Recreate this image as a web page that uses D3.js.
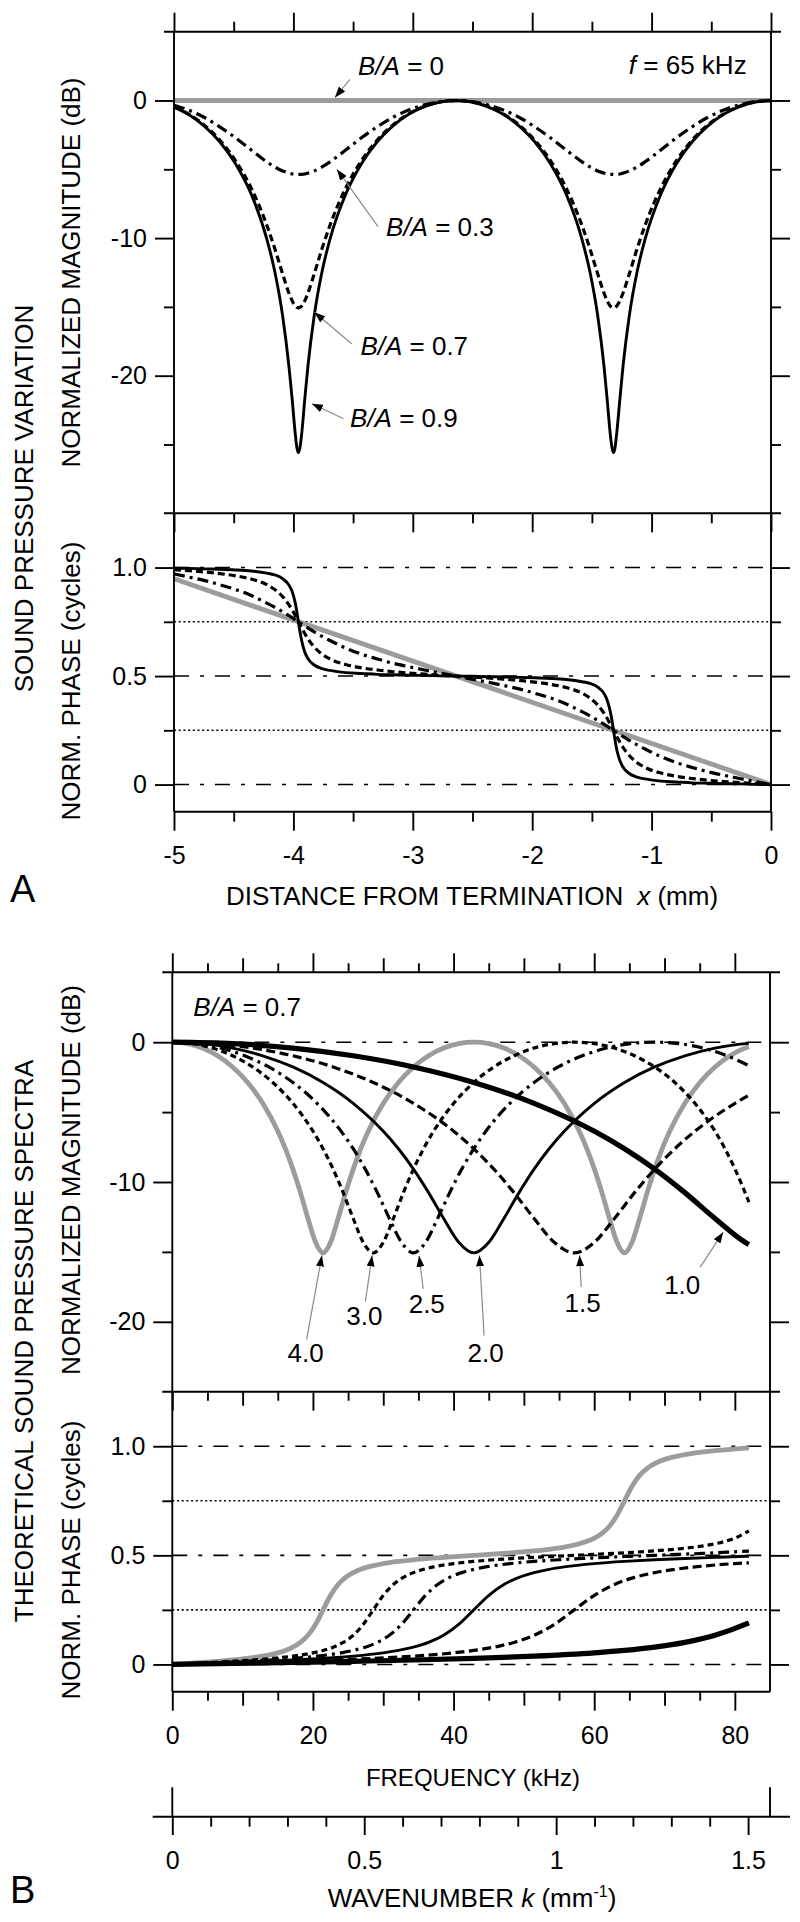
<!DOCTYPE html>
<html><head><meta charset="utf-8">
<script src="https://cdn.jsdelivr.net/npm/d3@7/dist/d3.min.js"></script>
<style>
body{margin:0;background:#fff;}
svg{display:block;}
</style></head><body>
<svg id="chart" width="800" height="1922"></svg>
<script>
// ---------------- DATA ----------------
// Panel A: distance from termination x (mm), f = 65 kHz
const xDist = [-5,-4.881,-4.749,-4.617,-4.485,-4.353,-4.222,-4.156,-4.090,-4.037,-4.010,-3.984,-3.971,-3.958,-3.945,-3.931,-3.905,-3.879,-3.826,-3.760,-3.694,-3.562,-3.430,-3.298,-3.166,-3.034,-2.902,-2.770,-2.638,
 -2.507,-2.375,-2.243,-2.111,-1.979,-1.847,-1.715,-1.583,-1.517,-1.451,-1.398,-1.372,-1.346,-1.332,-1.319,-1.306,-1.293,-1.266,-1.240,-1.187,-1.121,-1.055,-0.923,-0.792,-0.660,-0.528,-0.396,-0.264,-0.132,0];
const xDist0 = [-5, 0];
const magA_0 = [0, 0];
const magA_03 = [-0.34,-0.69,-1.22,-1.91,-2.71,-3.60,-4.46,-4.83,-5.12,-5.28,-5.34,-5.37,-5.37,-5.38,-5.37,-5.37,-5.34,-5.28,-5.12,-4.83,-4.46,-3.60,-2.71,-1.91,-1.22,-0.69,-0.31,-0.08,0,
 -0.08,-0.31,-0.69,-1.22,-1.91,-2.71,-3.60,-4.46,-4.83,-5.12,-5.28,-5.34,-5.37,-5.37,-5.38,-5.37,-5.37,-5.34,-5.28,-5.12,-4.83,-4.46,-3.60,-2.71,-1.91,-1.22,-0.69,-0.31,-0.08,0];
const magA_07 = [-0.47,-0.97,-1.77,-2.88,-4.37,-6.37,-9.08,-10.76,-12.61,-14.01,-14.56,-14.94,-15.03,-15.07,-15.03,-14.94,-14.56,-14.01,-12.61,-10.76,-9.08,-6.37,-4.37,-2.88,-1.77,-0.97,-0.42,-0.10,0,
 -0.10,-0.42,-0.97,-1.77,-2.88,-4.37,-6.37,-9.08,-10.76,-12.61,-14.01,-14.56,-14.94,-15.03,-15.07,-15.03,-14.94,-14.56,-14.01,-12.61,-10.76,-9.08,-6.37,-4.37,-2.88,-1.77,-0.97,-0.42,-0.10,0];
const magA_09 = [-0.48,-1.00,-1.84,-3.00,-4.59,-6.81,-10.09,-12.43,-15.66,-19.36,-21.74,-24.26,-25.21,-25.58,-25.21,-24.26,-21.74,-19.36,-15.66,-12.43,-10.09,-6.81,-4.59,-3.00,-1.84,-1.00,-0.44,-0.11,0,
 -0.11,-0.44,-1.00,-1.84,-3.00,-4.59,-6.81,-10.09,-12.43,-15.66,-19.36,-21.74,-24.26,-25.21,-25.58,-25.21,-24.26,-21.74,-19.36,-15.66,-12.43,-10.09,-6.81,-4.59,-3.00,-1.84,-1.00,-0.44,-0.11,0];
const phaseA_0 = [0.948, 0];
const phaseA_03 = [0.971,0.957,0.941,0.921,0.899,0.871,0.836,0.817,0.796,0.778,0.769,0.759,0.755,0.75,0.745,0.741,0.731,0.722,0.704,0.683,0.664,0.629,0.601,0.579,0.559,0.543,0.528,0.514,0.5,
 0.486,0.472,0.457,0.441,0.421,0.399,0.371,0.336,0.317,0.296,0.278,0.269,0.259,0.255,0.25,0.245,0.241,0.231,0.222,0.204,0.183,0.164,0.129,0.101,0.079,0.059,0.043,0.028,0.014,0];
const phaseA_07 = [0.990,0.986,0.980,0.972,0.962,0.947,0.921,0.899,0.866,0.828,0.805,0.778,0.764,0.75,0.736,0.722,0.696,0.672,0.634,0.601,0.579,0.553,0.538,0.528,0.520,0.514,0.509,0.504,0.5,
 0.496,0.491,0.486,0.480,0.472,0.462,0.447,0.421,0.399,0.366,0.328,0.305,0.278,0.264,0.25,0.236,0.222,0.196,0.172,0.134,0.101,0.079,0.053,0.038,0.028,0.020,0.014,0.009,0.004,0];
const phaseA_09 = [0.997,0.996,0.994,0.992,0.989,0.984,0.974,0.966,0.949,0.919,0.889,0.836,0.796,0.75,0.704,0.664,0.611,0.581,0.551,0.534,0.526,0.516,0.512,0.508,0.506,0.504,0.503,0.501,0.5,
 0.499,0.497,0.496,0.494,0.492,0.489,0.484,0.474,0.466,0.449,0.419,0.389,0.336,0.296,0.25,0.204,0.164,0.111,0.081,0.051,0.034,0.026,0.016,0.012,0.008,0.006,0.004,0.003,0.001,0];

// Panel B: spectra (B/A = 0.7) at distances 4.0, 3.0, 2.5, 2.0, 1.5, 1.0 mm; frequency in kHz
const f40 = [0,2.14,4.29,6.43,8.58,10.72,12.86,15.01,16.08,17.15,18.22,19.29,20.37,21.44,22.51,23.58,24.65,25.73,26.80,27.87,30.01,32.16,34.30,36.44,38.59,40.73,42.88,45.02,47.16,49.31,51.45,53.59,55.74,57.88,58.95,60.03,61.10,62.17,63.24,64.31,65.38,66.46,67.53,68.60,69.67,70.74,72.89,75.03,77.18,79.32,81.46,82];
const mag40 = [0,-0.10,-0.42,-0.97,-1.77,-2.88,-4.37,-6.37,-7.62,-9.08,-10.76,-12.61,-14.31,-15.07,-14.31,-12.61,-10.76,-9.08,-7.62,-6.37,-4.37,-2.88,-1.77,-0.97,-0.42,-0.10,0,-0.10,-0.42,-0.97,-1.77,-2.88,-4.37,-6.37,-7.62,-9.08,-10.76,-12.61,-14.31,-15.07,-14.31,-12.61,-10.76,-9.08,-7.62,-6.37,-4.37,-2.88,-1.77,-0.97,-0.42,-0.32];
const ph40 = [0,0.0044,0.0091,0.0143,0.0203,0.0278,0.0379,0.0531,0.0641,0.0792,0.1009,0.1336,0.1832,0.25,0.3168,0.3664,0.3991,0.4208,0.4359,0.4469,0.4621,0.4722,0.4797,0.4857,0.4909,0.4956,0.5,0.5044,0.5091,0.5143,0.5203,0.5278,0.5379,0.5531,0.5641,0.5792,0.6009,0.6336,0.6832,0.75,0.8168,0.8664,0.8991,0.9208,0.9359,0.9469,0.9621,0.9722,0.9797,0.9857,0.9909,0.9921];
const f30 = [0,2.86,5.72,8.58,11.43,14.29,17.15,20.01,21.44,22.87,24.30,25.73,27.15,28.58,30.01,31.44,32.87,34.30,35.73,37.16,40.02,42.88,45.73,48.59,51.45,54.31,57.17,60.03,62.88,65.74,68.60,71.46,74.32,77.18,78.60,80.03,82];
const mag30 = [0,-0.10,-0.42,-0.97,-1.77,-2.88,-4.37,-6.37,-7.62,-9.08,-10.76,-12.61,-14.31,-15.07,-14.31,-12.61,-10.76,-9.08,-7.62,-6.37,-4.37,-2.88,-1.77,-0.97,-0.42,-0.10,0,-0.10,-0.42,-0.97,-1.77,-2.88,-4.37,-6.37,-7.62,-9.08,-11.44];
const ph30 = [0,0.0044,0.0091,0.0143,0.0203,0.0278,0.0379,0.0531,0.0641,0.0792,0.1009,0.1336,0.1832,0.25,0.3168,0.3664,0.3991,0.4208,0.4359,0.4469,0.4621,0.4722,0.4797,0.4857,0.4909,0.4956,0.5,0.5044,0.5091,0.5143,0.5203,0.5278,0.5379,0.5531,0.5641,0.5792,0.6116];
const f25 = [0,3.43,6.86,10.29,13.72,17.15,20.58,24.01,25.73,27.44,29.16,30.87,32.59,34.30,36.02,37.73,39.45,41.16,42.88,44.59,48.02,51.45,54.88,58.31,61.74,65.17,68.60,72.03,75.46,78.89,82];
const mag25 = [0,-0.10,-0.42,-0.97,-1.77,-2.88,-4.37,-6.37,-7.62,-9.08,-10.76,-12.61,-14.31,-15.07,-14.31,-12.61,-10.76,-9.08,-7.62,-6.37,-4.37,-2.88,-1.77,-0.97,-0.42,-0.10,0,-0.10,-0.42,-0.97,-1.68];
const ph25 = [0,0.0044,0.0091,0.0143,0.0203,0.0278,0.0379,0.0531,0.0641,0.0792,0.1009,0.1336,0.1832,0.25,0.3168,0.3664,0.3991,0.4208,0.4359,0.4469,0.4621,0.4722,0.4797,0.4857,0.4909,0.4956,0.5,0.5044,0.5091,0.5143,0.5197];
const f20 = [0,4.29,8.58,12.86,17.15,21.44,25.73,30.01,32.16,34.30,36.44,38.59,40.73,42.88,45.02,47.16,49.31,51.45,53.59,55.74,60.03,64.31,68.60,72.89,77.18,81.46,82];
const mag20 = [0,-0.10,-0.42,-0.97,-1.77,-2.88,-4.37,-6.37,-7.62,-9.08,-10.76,-12.61,-14.31,-15.07,-14.31,-12.61,-10.76,-9.08,-7.62,-6.37,-4.37,-2.88,-1.77,-0.97,-0.42,-0.10,-0.08];
const ph20 = [0,0.0044,0.0091,0.0143,0.0203,0.0278,0.0379,0.0531,0.0641,0.0792,0.1009,0.1336,0.1832,0.25,0.3168,0.3664,0.3991,0.4208,0.4359,0.4469,0.4621,0.4722,0.4797,0.4857,0.4909,0.4956,0.4961];
const f15 = [0,5.72,11.43,17.15,22.87,28.58,34.30,40.02,42.88,45.73,48.59,51.45,54.31,57.17,60.03,62.88,65.74,68.60,71.46,74.32,80.03,82];
const mag15 = [0,-0.10,-0.42,-0.97,-1.77,-2.88,-4.37,-6.37,-7.62,-9.08,-10.76,-12.61,-14.31,-15.07,-14.31,-12.61,-10.76,-9.08,-7.62,-6.37,-4.37,-3.80];
const ph15 = [0,0.0044,0.0091,0.0143,0.0203,0.0278,0.0379,0.0531,0.0641,0.0792,0.1009,0.1336,0.1832,0.25,0.3168,0.3664,0.3991,0.4208,0.4359,0.4469,0.4621,0.4656];
const f10 = [0,8.58,17.15,25.73,34.30,42.88,51.45,60.03,64.31,68.60,72.89,77.18,81.46,82];
const mag10 = [0,-0.10,-0.42,-0.97,-1.77,-2.88,-4.37,-6.37,-7.62,-9.08,-10.76,-12.61,-14.31,-14.47];
const ph10 = [0,0.0044,0.0091,0.0143,0.0203,0.0278,0.0379,0.0531,0.0641,0.0792,0.1009,0.1336,0.1832,0.1909];

// tick values
const distTicks = [-5,-4,-3,-2,-1,0];
const distMinor = [-4.5,-3.5,-2.5,-1.5,-0.5];
const magTicksA = [0,-10,-20];
const magMinorA = [-5,-15,-25];
const magTicksB = [0,-10,-20];
const magMinorB = [-5,-15];
const phaseTicks = [0,0.5,1];
const phaseMinor = [0.25,0.75];
const freqTicks = [0,20,40,60,80];
const freqMid = [10,30,50,70];
const freqMinor = [5,15,25,35,45,55,65,75];
const kTicks = [0,0.5,1,1.5];
const kMinor = [0.1,0.2,0.3,0.4,0.6,0.7,0.8,0.9,1.1,1.2,1.3,1.4];

// annotation labels (data coordinates)
const annA = [
  {t:"0",   x:-3.459, y:1.82,  x1:-3.526, y1:1.53,  x2:-3.652, y2:0.22},
  {t:"0.3", x:-3.224, y:-9.88, x1:-3.291, y1:-9.16, x2:-3.635, y2:-5.01},
  {t:"0.7", x:-3.439, y:-18.53,x1:-3.512, y1:-17.68,x2:-3.824, y2:-15.39},
  {t:"0.9", x:-3.526, y:-23.74,x1:-3.580, y1:-23.13,x2:-3.845, y2:-22.04}
];
const annB = [
  {t:"4.0", x:18.96, y:-22.85, x1:19.10, y1:-21.27, x2:21.28, y2:-15.25},
  {t:"3.0", x:27.32, y:-20.20, x1:27.46, y1:-18.55, x2:28.42, y2:-15.25},
  {t:"2.5", x:36.19, y:-19.38, x1:35.68, y1:-17.65, x2:35.10, y2:-15.28},
  {t:"2.0", x:44.55, y:-22.85, x1:44.34, y1:-20.99, x2:43.68, y2:-15.25},
  {t:"1.5", x:58.35, y:-19.31, x1:58.14, y1:-17.53, x2:57.93, y2:-15.25},
  {t:"1.0", x:72.52, y:-18.00, x1:75.07, y1:-16.09, x2:78.34, y2:-13.59}
];

// ---------------- DRAWING ----------------
const FONT = '"Liberation Sans", Arial, Helvetica, sans-serif';
const svg = d3.select("#chart").attr("font-family", FONT);
const GRAY = "#9c9c9c";

const xA = d3.scaleLinear().domain([-5,0]).range([174,771]);
const yMagA = d3.scaleLinear().domain([-30,5]).range([513.3,31.7]);
const yPhA = d3.scaleLinear().domain([-0.125,1.25]).range([811.7,513.3]);
const xB = d3.scaleLinear().domain([0,85]).range([172.3,770]);
const yMagB = d3.scaleLinear().domain([-25,5]).range([1391.7,972.3]);
const yPhB = d3.scaleLinear().domain([-0.125,1.25]).range([1691.7,1391.7]);
const kScale = d3.scaleLinear().domain([0,1.5571]).range([172.3,770]);

const defs = svg.append("defs");
defs.append("marker").attr("id","ah").attr("viewBox","0 0 10 10")
  .attr("refX",10).attr("refY",5).attr("markerWidth",11).attr("markerHeight",8)
  .attr("markerUnits","userSpaceOnUse").attr("orient","auto").attr("preserveAspectRatio","none")
  .append("path").attr("d","M0,0L10,5L0,10z").attr("fill","#000");

const gRef = svg.append("g"), gData = svg.append("g"), gAxes = svg.append("g"), gText = svg.append("g");

function hline(g, y, x1, x2, dash, w){
  g.append("line").attr("x1",x1).attr("x2",x2).attr("y1",y).attr("y2",y)
   .attr("stroke","#000").attr("stroke-width",w||1.5).attr("stroke-dasharray",dash||null);
}
// reference lines
[0,0.5,1].forEach(v=>{ hline(gRef,yPhA(v),174,771,"15,11,4,11",1.6); hline(gRef,yPhB(v),172.3,770,"15,11,4,11",1.6); });
[0.25,0.75].forEach(v=>{ hline(gRef,yPhA(v),174,771,"2,2.7",1.6); hline(gRef,yPhB(v),172.3,770,"2,2.7",1.6); });
hline(gRef,yMagB(0),172.3,770,"15,11,4,11",1.6);

function curve(xs, ys, sx, sy, st){
  const line = d3.line().curve(d3.curveMonotoneX).x((d,i)=>sx(xs[i])).y(d=>sy(d));
  gData.append("path").attr("d", line(ys)).attr("fill","none")
    .attr("stroke", st.c||"#000").attr("stroke-width", st.w)
    .attr("stroke-dasharray", st.d||null).attr("stroke-linejoin","round");
}
const stGray = {c:GRAY, w:4.8};
const stSolid = {w:2.9};
const stDash = {w:3.2, d:"7,4"};
const stDashDot = {w:3.2, d:"11,5,3,5"};

// Panel A magnitude
curve(xDist0, magA_0, xA, yMagA, stGray);
curve(xDist, magA_03, xA, yMagA, stDashDot);
curve(xDist, magA_07, xA, yMagA, stDash);
curve(xDist, magA_09, xA, yMagA, stSolid);
// Panel A phase
curve(xDist0, phaseA_0, xA, yPhA, stGray);
curve(xDist, phaseA_03, xA, yPhA, stDashDot);
curve(xDist, phaseA_07, xA, yPhA, stDash);
curve(xDist, phaseA_09, xA, yPhA, stSolid);

// Panel B
const seriesB = [
  {f:f40, m:mag40, p:ph40, st:stGray},
  {f:f30, m:mag30, p:ph30, st:{w:3.2, d:"6,4"}},
  {f:f25, m:mag25, p:ph25, st:stDashDot},
  {f:f20, m:mag20, p:ph20, st:stSolid},
  {f:f15, m:mag15, p:ph15, st:{w:3.2, d:"9,4.5"}},
  {f:f10, m:mag10, p:ph10, st:{w:5.2}}
];
seriesB.forEach(s=>{ curve(s.f, s.m, xB, yMagB, s.st); curve(s.f, s.p, xB, yPhB, s.st); });

// frames
function seg(x1,y1,x2,y2,w){ gAxes.append("line").attr("x1",x1).attr("y1",y1).attr("x2",x2).attr("y2",y2).attr("stroke","#000").attr("stroke-width",w||1.9); }
seg(164,31.7,781,31.7); seg(164,513.3,781,513.3); seg(174,811.7,771,811.7);
seg(174,31.7,174,811.7); seg(771,31.7,771,811.7);
seg(162.3,972.3,780,972.3); seg(162.3,1391.7,780,1391.7); seg(172.3,1691.7,770,1691.7);
seg(172.3,972.3,172.3,1691.7); seg(770,972.3,770,1691.7);
// wavenumber axis line and stubs
seg(152.7,1816.7,790,1816.7); seg(172.3,1787.3,172.3,1816.7); seg(770,1787.3,770,1816.7);

function ax(axisFn, scale, vals, size, tx, ty, fmt, pad){
  const a = axisFn(scale).tickValues(vals).tickSize(size).tickSizeOuter(0);
  if(fmt){ a.tickFormat(fmt).tickPadding(pad); } else { a.tickFormat(""); }
  const g = gAxes.append("g").attr("transform",`translate(${tx},${ty})`).call(a);
  g.select(".domain").remove();
  g.attr("font-family",FONT).attr("font-size",25);
  g.selectAll(".tick line").attr("stroke","#000").attr("stroke-width",1.9);
  g.selectAll(".tick text").attr("fill","#000");
  return g;
}
const fmtNum = d=>String(d);
const fmtPh = d=> d===0 ? "0" : d.toFixed(1);

// Panel A x ticks
ax(d3.axisTop, xA, distTicks, 19, 0, 31.7);
ax(d3.axisTop, xA, distMinor, 10, 0, 31.7);
ax(d3.axisBottom, xA, distTicks, 19, 0, 513.3);
ax(d3.axisBottom, xA, distMinor, 10, 0, 513.3);
ax(d3.axisBottom, xA, distTicks, 19, 0, 811.7, fmtNum, 16);
ax(d3.axisBottom, xA, distMinor, 10, 0, 811.7);
// Panel A y ticks
ax(d3.axisLeft, yMagA, magTicksA, 19, 174, 0, fmtNum, 8);
ax(d3.axisLeft, yMagA, magMinorA, 10, 174, 0);
ax(d3.axisRight, yMagA, magTicksA, 19, 771, 0);
ax(d3.axisRight, yMagA, magMinorA, 10, 771, 0);
ax(d3.axisLeft, yPhA, phaseTicks, 19, 174, 0, fmtPh, 8);
ax(d3.axisLeft, yPhA, phaseMinor, 10, 174, 0);
ax(d3.axisRight, yPhA, phaseTicks, 19, 771, 0);
ax(d3.axisRight, yPhA, phaseMinor, 10, 771, 0);
// Panel B x ticks
[[d3.axisTop,972.3],[d3.axisBottom,1391.7],[d3.axisBottom,1691.7]].forEach(([fn,y],i)=>{
  ax(fn, xB, freqTicks, 19, 0, y, i===2?fmtNum:null, 16);
  ax(fn, xB, freqMid, 14, 0, y);
  ax(fn, xB, freqMinor, 9, 0, y);
});
// Panel B y ticks
ax(d3.axisLeft, yMagB, magTicksB, 19, 172.3, 0, fmtNum, 8);
ax(d3.axisLeft, yMagB, magMinorB, 10, 172.3, 0);
ax(d3.axisRight, yMagB, magTicksB, 19, 770, 0);
ax(d3.axisRight, yMagB, magMinorB, 10, 770, 0);
ax(d3.axisLeft, yPhB, phaseTicks, 19, 172.3, 0, fmtPh, 8);
ax(d3.axisLeft, yPhB, phaseMinor, 10, 172.3, 0);
ax(d3.axisRight, yPhB, phaseTicks, 19, 770, 0);
ax(d3.axisRight, yPhB, phaseMinor, 10, 770, 0);
// wavenumber
ax(d3.axisBottom, kScale, kTicks, 18.3, 0, 1816.7, fmtNum, 16);
ax(d3.axisBottom, kScale, kMinor, 10, 0, 1816.7);

// text helpers
function txt(x, y, parts, size, anchor, rot){
  const t = gText.append("text").attr("x",x).attr("y",y).attr("font-size",size)
    .attr("text-anchor",anchor||"start").attr("fill","#000");
  if(rot) t.attr("transform",`rotate(${rot},${x},${y})`);
  parts.forEach(p=>{
    const s = t.append("tspan").text(p.s);
    if(p.i) s.attr("font-style","italic");
    if(p.dx) s.attr("dx",p.dx);
    if(p.dy) s.attr("dy",p.dy);
    if(p.fs) s.attr("font-size",p.fs);
  });
  return t;
}
function arrow(x1,y1,x2,y2){
  gText.append("line").attr("x1",x1).attr("y1",y1).attr("x2",x2).attr("y2",y2)
    .attr("stroke","#8a8a8a").attr("stroke-width",1.2).attr("marker-end","url(#ah)");
}

// axis titles
txt(472, 905, [{s:"DISTANCE FROM TERMINATION"},{s:"x",i:1,dx:14},{s:" (mm)"}], 26, "middle");
txt(473, 1786, [{s:"FREQUENCY (kHz)"}], 24, "middle");
txt(472, 1907, [{s:"WAVENUMBER "},{s:"k",i:1},{s:" (mm"},{s:"-1",fs:16,dy:-10},{s:")",dy:10}], 26, "middle");
txt(33, 498.5, [{s:"SOUND PRESSURE VARIATION"}], 26, "middle", -90);
txt(80, 272.5, [{s:"NORMALIZED MAGNITUDE (dB)"}], 26, "middle", -90);
txt(80, 681, [{s:"NORM. PHASE (cycles)"}], 26, "middle", -90);
txt(33, 1341, [{s:"THEORETICAL SOUND PRESSURE SPECTRA"}], 26, "middle", -90);
txt(80, 1180, [{s:"NORMALIZED MAGNITUDE (dB)"}], 26, "middle", -90);
txt(80, 1560, [{s:"NORM. PHASE (cycles)"}], 26, "middle", -90);
txt(10, 902, [{s:"A"}], 38);
txt(10, 1903, [{s:"B"}], 38);

// annotations
txt(xA(-0.204), yMagA(1.89), [{s:"f",i:1},{s:" = 65 kHz"}], 26, "end");
annA.forEach(a=>{
  arrow(xA(a.x1), yMagA(a.y1), xA(a.x2), yMagA(a.y2));
  txt(xA(a.x), yMagA(a.y), [{s:"B/A",i:1},{s:" = "+a.t}], 26);
});
txt(xB(2.99), yMagB(1.90), [{s:"B/A",i:1},{s:" = 0.7"}], 26);
annB.forEach(a=>{
  arrow(xB(a.x1), yMagB(a.y1), xB(a.x2), yMagB(a.y2));
  txt(xB(a.x), yMagB(a.y), [{s:a.t}], 26, "middle");
});
</script>
</body></html>
